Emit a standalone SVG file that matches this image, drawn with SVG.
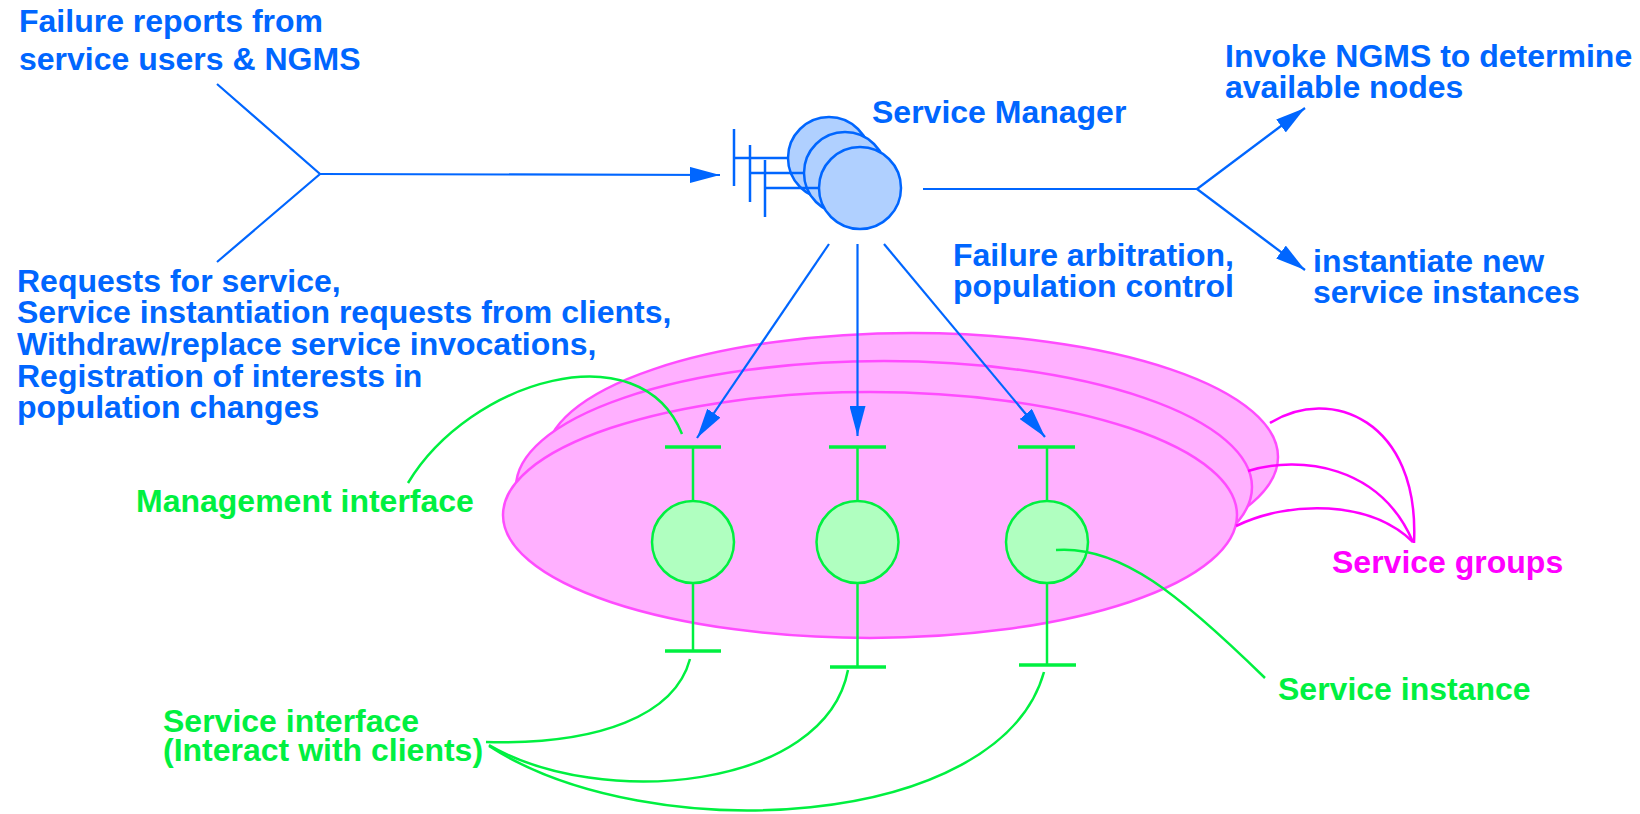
<svg xmlns="http://www.w3.org/2000/svg" width="1640" height="814" viewBox="0 0 1640 814">
<defs>
<style>
text{font-family:"Liberation Sans",Arial,Helvetica,sans-serif;font-weight:bold;font-size:32px}
.tb{fill:#0066ff}
.tg{fill:#00f040}
.tm{fill:#ff00ff}
.lb{stroke:#0066ff;stroke-width:2.2;fill:none}
.lg{stroke:#00f040;stroke-width:2.5;fill:none}
.lm{stroke:#ff00ff;stroke-width:2.5;fill:none}
.grp{fill:#ffb0ff;stroke:#ff4cff;stroke-width:2.5}
.inst{fill:#b0ffc0;stroke:#00f040;stroke-width:2.5}
.tbar{stroke:#00f040;stroke-width:3.5}
.sm{fill:#b0d0ff;stroke:#0066ff;stroke-width:2.5}
.smbar{stroke:#0066ff;stroke-width:2.5}
</style>
<marker id="ah" markerUnits="userSpaceOnUse" markerWidth="30" markerHeight="16" refX="30" refY="8" orient="auto" viewBox="0 0 30 16">
<path d="M0,0 L30,8 L0,16 z" fill="#0066ff"/>
</marker>
</defs>
<rect width="1640" height="814" fill="#ffffff"/>

<g id="service-groups">
<ellipse class="grp" cx="912" cy="457" rx="366" ry="124"/>
<ellipse class="grp" cx="884" cy="487" rx="368" ry="126"/>
<ellipse class="grp" cx="870" cy="515" rx="367" ry="123"/>
</g>

<g id="instance-1">
<line class="tbar" x1="665" y1="447" x2="721" y2="447"/>
<line class="lg" x1="693" y1="447" x2="693" y2="502"/>
<circle class="inst" cx="693" cy="542" r="41"/>
<line class="lg" x1="693" y1="583" x2="693" y2="651"/>
<line class="tbar" x1="665" y1="651" x2="721" y2="651"/>
</g>
<g id="instance-2">
<line class="tbar" x1="829" y1="447" x2="886" y2="447"/>
<line class="lg" x1="857.5" y1="447" x2="857.5" y2="502"/>
<circle class="inst" cx="857.5" cy="542" r="41"/>
<line class="lg" x1="857.5" y1="583" x2="857.5" y2="667"/>
<line class="tbar" x1="830" y1="667" x2="886" y2="667"/>
</g>
<g id="instance-3">
<line class="tbar" x1="1018" y1="447" x2="1075" y2="447"/>
<line class="lg" x1="1047" y1="447" x2="1047" y2="502"/>
<circle class="inst" cx="1047" cy="542" r="41"/>
<line class="lg" x1="1047" y1="583" x2="1047" y2="665"/>
<line class="tbar" x1="1019" y1="665" x2="1076" y2="665"/>
</g>

<g id="service-manager">
<circle class="sm" cx="829" cy="158" r="41"/>
<circle class="sm" cx="845" cy="173" r="41"/>
<circle class="sm" cx="860" cy="188" r="41"/>
<line class="smbar" x1="734" y1="129" x2="734" y2="186"/>
<line class="smbar" x1="750" y1="145" x2="750" y2="202"/>
<line class="smbar" x1="765" y1="160" x2="765" y2="217"/>
<line class="smbar" x1="734" y1="158" x2="788" y2="158"/>
<line class="smbar" x1="750" y1="173" x2="804" y2="173"/>
<line class="smbar" x1="765" y1="188" x2="819" y2="188"/>
</g>

<g id="connectors">
<polyline class="lb" points="217,84 320,174 217,262"/>
<line class="lb" x1="320" y1="174" x2="720" y2="175" marker-end="url(#ah)"/>
<polyline class="lb" points="923,189 1197,189"/>
<line class="lb" x1="1197" y1="189" x2="1305" y2="108" marker-end="url(#ah)"/>
<line class="lb" x1="1197" y1="189" x2="1305" y2="270" marker-end="url(#ah)"/>
<line class="lb" x1="829" y1="244" x2="697" y2="438" marker-end="url(#ah)"/>
<line class="lb" x1="857.5" y1="244" x2="857.5" y2="436" marker-end="url(#ah)"/>
<line class="lb" x1="884" y1="244" x2="1045" y2="437" marker-end="url(#ah)"/>
<path class="lg" d="M408,483 C470,380 640,330 682,434"/>
<path class="lg" d="M1056,550 C1120,545 1180,595 1265,678"/>
<path class="lg" d="M690,659 C675,715 600,745 486,742"/>
<path class="lg" d="M848,670 C825,790 600,810 489,745"/>
<path class="lg" d="M1044,672 C1000,830 650,850 489,746"/>
<path class="lm" d="M1270,423 C1330,385 1420,420 1414,543"/>
<path class="lm" d="M1248,471 C1300,455 1380,465 1413,542"/>
<path class="lm" d="M1236,526 C1290,500 1370,500 1413,542"/>
</g>

<g id="label-failure-reports">
<text class="tb" x="19" y="32">Failure reports from</text>
<text class="tb" x="19" y="70">service users &amp; NGMS</text>
</g>
<g id="label-requests">
<text class="tb" x="17" y="292">Requests for service,</text>
<text class="tb" x="17" y="323">Service instantiation requests from clients,</text>
<text class="tb" x="17" y="355">Withdraw/replace service invocations,</text>
<text class="tb" x="17" y="387">Registration of interests in</text>
<text class="tb" x="17" y="418">population changes</text>
</g>
<g id="label-service-manager">
<text class="tb" x="872" y="123">Service Manager</text>
</g>
<g id="label-invoke">
<text class="tb" x="1225" y="67">Invoke NGMS to determine</text>
<text class="tb" x="1225" y="98">available nodes</text>
</g>
<g id="label-instantiate">
<text class="tb" x="1313" y="272">instantiate new</text>
<text class="tb" x="1313" y="303">service instances</text>
</g>
<g id="label-arbitration">
<text class="tb" x="953" y="266">Failure arbitration,</text>
<text class="tb" x="953" y="297">population control</text>
</g>
<g id="label-management-interface">
<text class="tg" x="136" y="512">Management interface</text>
</g>
<g id="label-service-groups">
<text class="tm" x="1332" y="573">Service groups</text>
</g>
<g id="label-service-instance">
<text class="tg" x="1278" y="700">Service instance</text>
</g>
<g id="label-service-interface">
<text class="tg" x="163" y="732">Service interface</text>
<text class="tg" x="163" y="761">(Interact with clients)</text>
</g>
</svg>
